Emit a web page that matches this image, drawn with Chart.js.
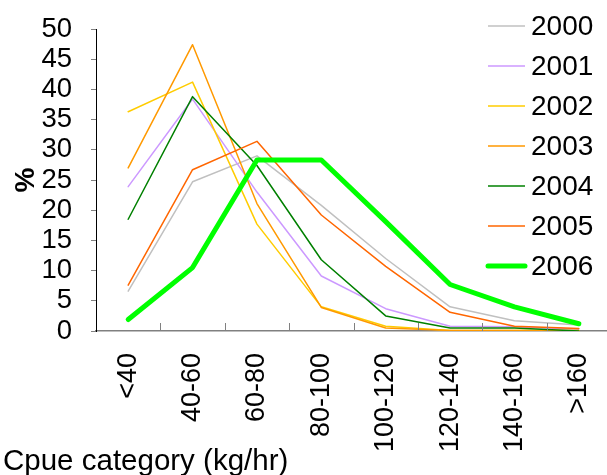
<!DOCTYPE html>
<html>
<head>
<meta charset="utf-8">
<script src="https://cdn.jsdelivr.net/npm/chart.js@4"></script>
<style>
  html, body { margin: 0; padding: 0; background: #fff; overflow: hidden; }
  #wrap { width: 612px; height: 475px; }
</style>
</head>
<body>
<div id="wrap"><canvas id="cpueChart" width="612" height="475"></canvas></div>
<script>
// Data
const categories = ['<40', '40-60', '60-80', '80-100', '100-120', '120-140', '140-160', '>160'];
const years = ['2000', '2001', '2002', '2003', '2004', '2005', '2006'];
const y2000 = [6.6, 24.7, 29.0, 20.8, 12.0, 4.0, 1.7, 1.0];
const y2001 = [23.9, 38.4, 23.0, 9.1, 3.7, 0.8, 0.7, 0.3];
const y2002 = [36.3, 41.2, 17.7, 4.0, 0.8, 0.1, 0.1, 0.1];
const y2003 = [27.0, 47.4, 21.1, 3.9, 0.5, 0.1, 0.1, 0.1];
const y2004 = [18.5, 38.8, 27.4, 11.8, 2.5, 0.5, 0.5, 0.0];
const y2005 = [7.6, 26.7, 31.4, 19.2, 10.7, 3.1, 0.8, 0.4];
const y2006 = [1.9, 10.5, 28.3, 28.3, 18.1, 7.7, 4.0, 1.2];
const yTicks = [0, 5, 10, 15, 20, 25, 30, 35, 40, 45, 50];

const seriesValues = [y2000, y2001, y2002, y2003, y2004, y2005, y2006];
const colors = ['#c0c0c0', '#cc99ff', '#ffcc00', '#ff9900', '#008000', '#ff6600', '#00ff00'];
const FONT = '"Liberation Sans", Arial, sans-serif';

const datasets = years.map((yr, i) => ({
  label: yr,
  data: seriesValues[i],
  borderColor: colors[i],
  backgroundColor: colors[i],
  borderWidth: yr === '2006' ? 5 : 1.5,
  borderCapStyle: 'round',
  borderJoinStyle: 'round',
  pointRadius: 0,
  tension: 0,
  fill: false,
  order: -i // later series drawn on top
}));

// legend overlaid in the top right, plus the inward x ticks and the x title
const extras = {
  id: 'extras',
  afterDraw(chart) {
    const c = chart.ctx;
    const x = chart.scales.x;
    const area = chart.chartArea;
    c.save();
    // inward ticks between categories
    c.strokeStyle = '#808080';
    c.lineWidth = 1;
    for (let i = 1; i < categories.length; i++) {
      const px = Math.round((x.getPixelForValue(i - 1) + x.getPixelForValue(i)) / 2) + 0.5;
      c.beginPath();
      c.moveTo(px, area.bottom);
      c.lineTo(px, area.bottom - 8);
      c.stroke();
    }
    // legend
    c.font = '28px ' + FONT;
    c.textBaseline = 'middle';
    c.fillStyle = '#000';
    chart.data.datasets.forEach((ds, i) => {
      const y = 26 + i * 40;
      c.strokeStyle = ds.borderColor;
      c.lineWidth = ds.borderWidth;
      c.lineCap = ds.borderWidth > 2 ? 'round' : 'butt';
      c.beginPath();
      c.moveTo(488, y);
      c.lineTo(525, y);
      c.stroke();
      c.fillText(ds.label, 531, y + 1);
    });
    // x axis title
    c.font = '29.5px ' + FONT;
    c.textBaseline = 'alphabetic';
    c.fillText('Cpue category (kg/hr)', 3, 470);
    c.restore();
  }
};

new Chart(document.getElementById('cpueChart'), {
  type: 'line',
  data: { labels: categories, datasets: datasets },
  options: {
    responsive: false,
    animation: false,
    layout: { padding: { top: 29, right: 1, bottom: 0, left: 0 } },
    plugins: { legend: { display: false }, tooltip: { enabled: false } },
    scales: {
      x: {
        offset: true,
        grid: { display: true, drawOnChartArea: false, drawTicks: false, offset: true },
        border: { color: '#808080', width: 1.5 },
        ticks: {
          color: '#000',
          font: { family: FONT, size: 27 },
          minRotation: 90,
          maxRotation: 90,
          padding: 22,
          autoSkip: false
        },
        afterFit: (scale) => {
          scale.height = 144;
          scale.paddingLeft = 0;
          scale.paddingRight = 0;
        }
      },
      y: {
        min: 0,
        max: 50,
        afterBuildTicks: (scale) => { scale.ticks = yTicks.map(v => ({ value: v })); },
        grid: { drawOnChartArea: false, drawTicks: true, tickLength: 5, color: '#808080' },
        border: { color: '#000', width: 1 },
        ticks: {
          color: '#000',
          font: { family: FONT, size: 27.5 },
          padding: 19,
          autoSkip: false
        },
        title: {
          display: true,
          text: '%',
          color: '#000',
          font: { family: FONT, size: 28, weight: 'bold' },
          padding: { top: 9, bottom: 0 }
        },
        afterFit: (scale) => {
          scale.width = 96;
          scale.paddingTop = 0;
          scale.paddingBottom = 0;
        }
      }
    }
  },
  plugins: [extras]
});
</script>
</body>
</html>
